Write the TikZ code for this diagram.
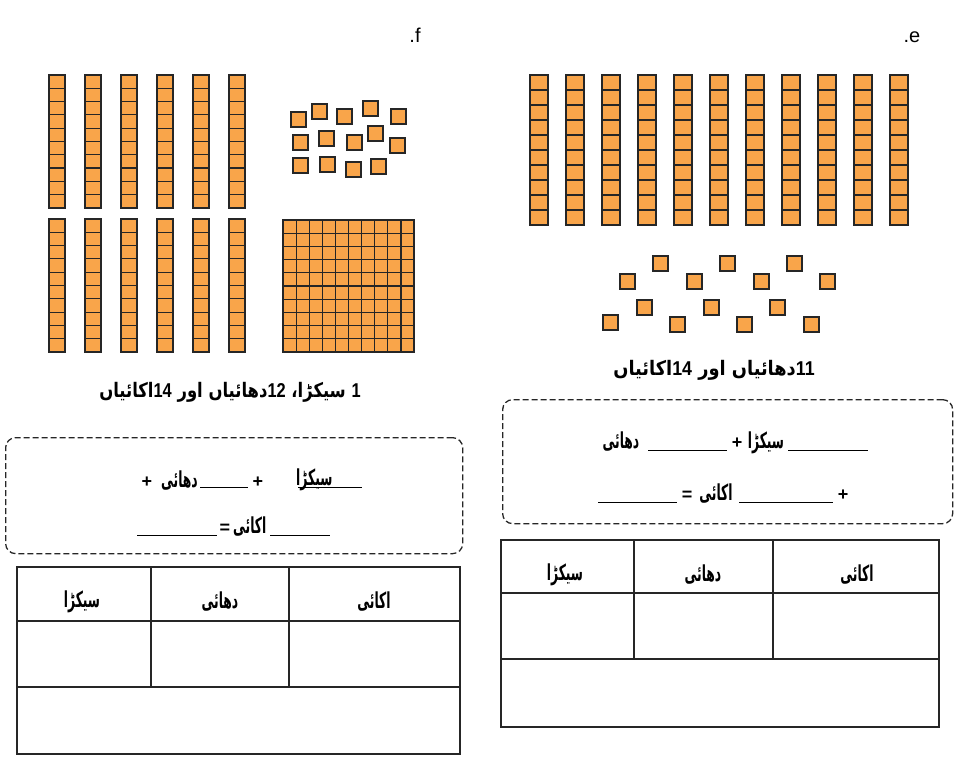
\documentclass[tikz,border=0pt]{standalone}
\usepackage{fontspec}
\usepackage{graphicx}
\setmainfont{Liberation Sans}
\newfontfamily\ur[Script=Arabic]{DejaVu Sans}
\newfontfamily\lat{Liberation Sans}
\TeXXeTstate=1
\definecolor{cubefill}{HTML}{F9A54A}
\definecolor{edgec}{HTML}{262626}
\newcommand\myrod[4]{%
  \fill[cubefill] (#1,#2) rectangle ++(#3,#4);
  \foreach \k in {1,...,9} \draw[edgec, line width=1.2pt] (#1,#2+\k*#4/10) -- ++(#3,0);
  \draw[edgec, line width=2.2pt] (#1,#2) rectangle ++(#3,#4);
}
\newcommand\myunit[2]{\filldraw[fill=cubefill, draw=edgec, line width=1.8pt] (#1,#2) rectangle ++(15,15);}
\newcommand\uw[1]{\scalebox{0.56}[1]{\beginR #1\endR}}
\tikzset{
  urw/.style={font=\ur\bfseries\fontsize{22}{26}\selectfont, inner sep=0pt},
  lbl/.style={font=\ur\bfseries\fontsize{20}{24}\selectfont, inner sep=0pt},
  sym/.style={font=\lat\bfseries\fontsize{18}{22}\selectfont, inner sep=0pt},
  blank/.style={draw=black, line width=1pt},
  dashbox/.style={draw=edgec, line width=1.3pt, dash pattern=on 6pt off 3pt, rounded corners=10pt},
  tab/.style={draw=edgec, line width=1.4pt},
  tag/.style={font=\lat\fontsize{20}{24}\selectfont, inner sep=0pt}
}
\begin{document}
\begin{tikzpicture}[x=1pt, y=-1pt]
\useasboundingbox (0,0) rectangle (964,762);

% ---------- labels f / e ----------
\node[tag, anchor=base] (tagf) at (415,43) {.f};
\node[tag, anchor=base] (tage) at (912,43) {.e};

% ---------- left (f) blocks ----------
\foreach \i in {0,...,5} {
  \myrod{49+36*\i}{75}{16}{133}
  \myrod{49+36*\i}{219}{16}{133}
}
% flat
\fill[cubefill] (283,220) rectangle (414,352);
\foreach \k in {1,...,9} {
  \draw[edgec, line width=1.2pt] (283+\k*13.1,220) -- ++(0,132);
  \draw[edgec, line width=1.2pt] (283,220+\k*13.2) -- ++(131,0);
}
\draw[edgec, line width=2.2pt] (283,220) rectangle (414,352);
% loose units
\myunit{291}{112}\myunit{312}{104}\myunit{337}{109}\myunit{363}{101}\myunit{391}{109}
\myunit{293}{135}\myunit{319}{131}\myunit{347}{135}\myunit{368}{126}\myunit{390}{138}
\myunit{293}{158}\myunit{320}{157}\myunit{346}{162}\myunit{371}{159}

% ---------- right (e) blocks ----------
\foreach \i in {0,...,10} {
  \myrod{530+36*\i}{75}{18}{150}
}
\myunit{653}{256}\myunit{720}{256}\myunit{787}{256}
\myunit{620}{274}\myunit{687}{274}\myunit{754}{274}\myunit{820}{274}
\myunit{637}{300}\myunit{704}{300}\myunit{770}{300}
\myunit{603}{315}\myunit{670}{317}\myunit{737}{317}\myunit{804}{317}

% ---------- captions ----------
\node[lbl] (capf) at (230,392) {\scalebox{0.82}[1]{\beginR{\lat\bfseries 1} سیکڑا، \beginL{\lat\bfseries 12}\endL دهائیاں اور \beginL{\lat\bfseries 14}\endL اکائیاں\endR}};
\node[lbl] (cape) at (714,370) {\scalebox{0.89}[1]{\beginR\beginL{\lat\bfseries 11}\endL دهائیاں اور \beginL{\lat\bfseries 14}\endL اکائیاں\endR}};

% ---------- left dashed box ----------
\node[dashbox, minimum width=457pt, minimum height=116pt, anchor=north west, inner sep=0pt] (boxf) at (5,437) {};
\node[sym, anchor=base] (fp1) at (147,487) {+};
\node[urw, anchor=base east] (fdah) at (198,487) {\uw{دهائی}};
\coordinate (fb1a) at (200,487); \coordinate (fb1b) at (248,487);
\draw[blank] (fb1a) -- (fb1b);
\node[sym, anchor=base] (fp2) at (258,487) {+};
\node[urw, anchor=base west] (fsai) at (296,485) {\uw{سیکڑا}};
\coordinate (fb2a) at (298,487); \coordinate (fb2b) at (362,487);
\draw[blank] (fb2a) -- (fb2b);
\coordinate (fb3a) at (137,535); \coordinate (fb3b) at (217,535);
\draw[blank] (fb3a) -- (fb3b);
\node[sym, anchor=base] (feq) at (225,533) {=};
\node[urw, anchor=base west] (faka) at (233,533) {\uw{اکائی}};
\coordinate (fb4a) at (270,535); \coordinate (fb4b) at (330,535);
\draw[blank] (fb4a) -- (fb4b);

% ---------- right dashed box ----------
\node[dashbox, minimum width=450pt, minimum height=124pt, anchor=north west, inner sep=0pt] (boxe) at (502,399) {};
\node[urw, anchor=base] (edah) at (621,448) {\uw{دهائی}};
\coordinate (eb1a) at (648,450); \coordinate (eb1b) at (727,450);
\draw[blank] (eb1a) -- (eb1b);
\node[sym, anchor=base] (ep1) at (737,448) {+};
\node[urw, anchor=base] (esai) at (766,448) {\uw{سیکڑا}};
\coordinate (eb2a) at (788,450); \coordinate (eb2b) at (868,450);
\draw[blank] (eb2a) -- (eb2b);
\coordinate (eb3a) at (598,502); \coordinate (eb3b) at (677,502);
\draw[blank] (eb3a) -- (eb3b);
\node[sym, anchor=base] (eeq) at (687,500) {=};
\node[urw, anchor=base] (eaka) at (716,500) {\uw{اکائی}};
\coordinate (eb4a) at (739,502); \coordinate (eb4b) at (833,502);
\draw[blank] (eb4a) -- (eb4b);
\node[sym, anchor=base] (ep2) at (843,500) {+};

% ---------- left table ----------
\draw[tab] (17,567) rectangle (460,754);
\draw[tab] (17,621) -- (460,621);
\draw[tab] (17,687) -- (460,687);
\draw[tab] (151,567) -- (151,687);
\draw[tab] (289,567) -- (289,687);
\node[urw] (fh1) at (82,602) {\uw{سیکڑا}};
\node[urw] (fh2) at (220,602) {\uw{دهائی}};
\node[urw] (fh3) at (374,602) {\uw{اکائی}};

% ---------- right table ----------
\draw[tab] (501,540) rectangle (939,727);
\draw[tab] (501,593) -- (939,593);
\draw[tab] (501,659) -- (939,659);
\draw[tab] (634,540) -- (634,659);
\draw[tab] (773,540) -- (773,659);
\node[urw] (eh1) at (565,575) {\uw{سیکڑا}};
\node[urw] (eh2) at (703,575) {\uw{دهائی}};
\node[urw] (eh3) at (857,575) {\uw{اکائی}};
\end{tikzpicture}
\end{document}
